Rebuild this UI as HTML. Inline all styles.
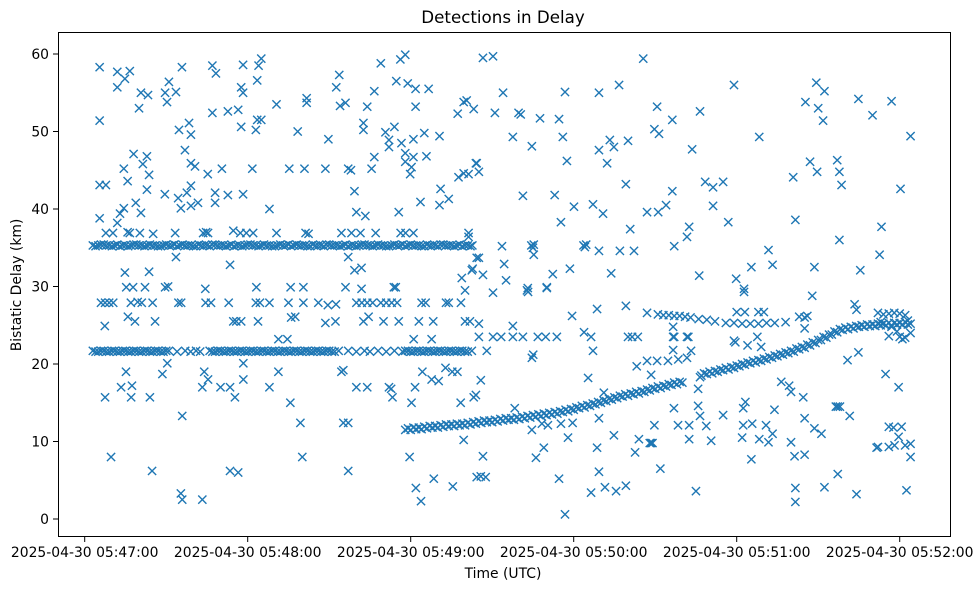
<!DOCTYPE html>
<html><head><meta charset="utf-8"><title>Detections in Delay</title>
<style>
html,body{margin:0;padding:0;background:#fff;}
svg{display:block;font-family:"DejaVu Sans","Liberation Sans",sans-serif;}
</style></head>
<body>
<svg id="chart" width="980" height="590" viewBox="0 0 980 590" xmlns="http://www.w3.org/2000/svg">
<rect x="0" y="0" width="980" height="590" fill="#fff"/>
<text x="503" y="23" font-size="16.7" text-anchor="middle" fill="#000">Detections in Delay</text>
<g id="marks"></g>
<rect x="58.5" y="32.5" width="892" height="504" fill="none" stroke="#000" stroke-width="1"/>
<g id="xaxis"></g>
<g id="yaxis"></g>
<text x="503" y="578" font-size="13.9" text-anchor="middle" fill="#000">Time (UTC)</text>
<text x="21" y="285" font-size="13.9" text-anchor="middle" fill="#000" transform="rotate(-90 21 285)">Bistatic Delay (km)</text>
</svg>
<script>
// seconds after 2025-04-30 05:47:00
const xTickSeconds = [0, 60, 120, 180, 240, 300];
const xTickLabels = ["2025-04-30 05:47:00","2025-04-30 05:48:00","2025-04-30 05:49:00","2025-04-30 05:50:00","2025-04-30 05:51:00","2025-04-30 05:52:00"];
const yTickValues = [0, 10, 20, 30, 40, 50, 60];
const yTickLabels = ["0","10","20","30","40","50","60"];

const band35 = [[3,35.3],[5,35.3],[7,35.4],[9,35.3],[11,35.3],[13,35.2],[15,35.3],[17,35.3],[19,35.4],[21,35.3],[23,35.3],[25,35.3],[27,35.2],[29,35.3],[31,35.3],[33,35.4],[35,35.3],[37,35.3],[39,35.3],[41,35.2],[43,35.3],[45,35.3],[47,35.4],[49,35.3],[51,35.3],[53,35.3],[55,35.2],[57,35.3],[59,35.3],[61,35.4],[63,35.3],[65,35.3],[67,35.3],[69,35.2],[71,35.3],[73,35.3],[75,35.4],[77,35.3],[79,35.3],[81,35.3],[83,35.2],[85,35.3],[87,35.3],[89,35.4],[91,35.3],[93,35.3],[95,35.3],[97,35.2],[99,35.3],[101,35.3],[103,35.4],[105,35.3],[107,35.3],[109,35.3],[111,35.2],[113,35.3],[115,35.3],[117,35.4],[119,35.3],[121,35.3],[123,35.3],[125,35.2],[127,35.3],[129,35.3],[131,35.4],[133,35.3],[135,35.3],[137,35.3],[139,35.2],[141,35.3],[142.7,35.3]];

const band35Fill = [[4,35.2],[6,35.4],[8,35.3],[10,35.2],[12,35.4],[14,35.3],[16,35.2],[18,35.4],[20,35.3],[22,35.2],[24,35.4],[26,35.3],[28,35.2],[30,35.4],[32,35.3],[34,35.2],[36,35.4],[38,35.3],[40,35.2],[42,35.4],[44,35.3],[46,35.2],[48,35.4],[50,35.3],[52,35.2],[54,35.4],[56,35.3],[58,35.2],[60,35.4],[62,35.3],[64,35.2],[66,35.4],[68,35.3],[70,35.2],[72,35.4],[74,35.3],[76,35.2],[78,35.4],[80,35.3],[82,35.2],[84,35.4],[86,35.3],[88,35.2],[90,35.4],[92,35.3],[94,35.2],[96,35.4],[98,35.3],[100,35.2],[102,35.4],[104,35.3],[106,35.2],[108,35.4],[110,35.3],[112,35.2],[114,35.4],[116,35.3],[118,35.2],[120,35.4],[122,35.3],[124,35.2],[126,35.4],[128,35.3],[130,35.2],[132,35.4],[134,35.3],[136,35.2],[138,35.4],[140,35.3],[142,35.2]];

const band22 = [[3,21.7],[5,21.6],[7,21.7],[9,21.6],[11,21.7],[13,21.6],[15,21.7],[17,21.6],[19,21.7],[21,21.6],[23,21.7],[25,21.6],[27,21.7],[29,21.6],[31,21.7],[34,21.6],[37,21.7],[39,21.6],[41,21.7],[42.5,21.6],[46,21.7],[48,21.6],[50,21.7],[52,21.6],[54,21.7],[56,21.6],[58,21.7],[60,21.6],[62,21.7],[64,21.6],[66,21.7],[68,21.6],[70,21.7],[72,21.6],[74,21.7],[76,21.6],[78,21.7],[80,21.6],[82,21.7],[84,21.6],[86,21.7],[88,21.6],[90,21.7],[92,21.6],[93.5,21.7],[97,21.7],[100,21.6],[103,21.7],[105,21.6],[108,21.7],[111,21.6],[114,21.7],[117,21.6],[119,21.7],[121,21.6],[123,21.7],[125,21.6],[127,21.7],[129,21.6],[131,21.7],[133,21.6],[135,21.7],[137,21.6],[139,21.7],[141,21.6],[142.5,21.7]];

const band22Fill = [[4,21.6],[6,21.7],[8,21.6],[10,21.7],[12,21.6],[14,21.7],[16,21.6],[18,21.7],[20,21.6],[22,21.7],[24,21.6],[26,21.7],[28,21.6],[30,21.7],[47,21.6],[49,21.7],[51,21.6],[53,21.7],[55,21.6],[57,21.7],[59,21.6],[61,21.7],[63,21.6],[65,21.7],[67,21.6],[69,21.7],[71,21.6],[73,21.7],[75,21.6],[77,21.7],[79,21.6],[81,21.7],[83,21.6],[85,21.7],[87,21.6],[89,21.7],[91,21.6],[118,21.7],[120,21.6],[122,21.7],[124,21.6],[126,21.7],[128,21.6],[130,21.7],[132,21.6],[134,21.7],[136,21.6],[138,21.7],[140,21.6]];

const curveTrack = [[118,11.5],[120,11.5],[122,11.6],[124,11.6],[126,11.7],[128,11.8],[130,11.8],[132,11.9],[134,12.0],[136,12.0],[138,12.1],[140,12.1],[142,12.2],[144,12.3],[146,12.4],[148,12.5],[150,12.5],[152,12.6],[154,12.7],[156,12.8],[158,12.8],[160,12.9],[162,13.0],[164,13.1],[166,13.2],[168,13.3],[170,13.4],[172,13.5],[174,13.6],[176,13.8],[178,13.9],[180,14.1],[182,14.3],[184,14.4],[186,14.6],[188,14.8],[190,15.0],[192,15.2],[194,15.4],[196,15.6],[198,15.8],[200,15.9],[202,16.1],[204,16.2],[206,16.4],[208,16.6],[210,16.8],[212,16.9],[214,17.1],[216,17.3],[218,17.4],[220,17.6],
[227,18.5],[229,18.7],[231,18.8],[233,19.0],[235,19.2],[237,19.3],[239,19.5],[241,19.7],[243,19.9],[245,20.1],[247,20.2],[249,20.4],[251,20.6],[253,20.8],[255,21.0],[257,21.2],[259,21.4],[261,21.6],[263,21.9],[265,22.1],[267,22.4],[269,22.7],[271,23.1],[273,23.4],[275,23.8],[277,24.1],[279,24.4],[281,24.5],[283,24.6],[285,24.8],[287,24.8],[289,24.9],[291,24.9],[293,25.0],[295,25.0],[297,25.0],[299,25.1],[301,25.1],[303,25.1],[304,25.2]];

const curveFill = [[119,11.7],[121,11.8],[123,11.8],[125,11.9],[127,12.0],[129,12.0],[131,12.1],[133,12.2],[135,12.2],[137,12.3],[139,12.3],[141,12.4],[143,12.5],[145,12.6],[147,12.7],[149,12.7],[151,12.8],[153,12.9],[155,13.0],[157,13.0],[159,13.1],[161,13.2],[163,13.3],[165,13.4],[167,13.5],[169,13.6],[171,13.7],[173,13.8],[175,13.9],[177,14.1],[179,14.2],[181,14.4],[183,14.6],[185,14.7],[187,14.9],[189,15.1],[191,15.3],[193,15.5],[195,15.7],[197,15.9],[199,16.1],[201,16.2],[203,16.4],[205,16.5],[207,16.7],[209,16.9],[211,17.1],[213,17.2],[215,17.4],[217,17.6],[219,17.7],
[228,18.8],[230,19.0],[232,19.1],[234,19.3],[236,19.5],[238,19.6],[240,19.8],[242,20.0],[244,20.2],[246,20.4],[248,20.5],[250,20.7],[252,20.9],[254,21.1],[256,21.3],[258,21.5],[260,21.7],[262,22.0],[264,22.2],[266,22.5],[268,22.8],[270,23.1],[272,23.5],[274,23.8],[276,24.2],[278,24.5],[280,24.7],[282,24.8],[284,24.9],[286,25.0],[288,25.1],[290,25.1],[292,25.2],[294,25.2],[296,25.3],[298,25.3],[300,25.3],[302,25.4]];

const track26 = [[207,26.6],[211,26.4],[213,26.3],[215,26.3],[217,26.2],[219,26.2],[221,26.1],[223,26.0],[226,25.8],[229,25.7],[232,25.5],[236,25.3],[239,25.3],[242,25.2],[245,25.2],[248,25.2],[251,25.3],[254,25.3],[258,25.4],[240,26.7],[243,26.7],[248,26.7],[250,26.7],[263,26.1],[265,26.0],[266,26.2],[292,26.6],[294,26.4],[296,26.5],[298,26.6],[300,26.5],[302,26.3],[293,25.4],[297,24.8],[299,24.2],[300,23.5],[302,23.4],[304,24.0],[303,25.6],[301,23.2],[296,23.6]];

const scatter = [[5.5,58.3],[5.5,51.4],[12,57.7],[12,55.7],[14.8,56.8],[16.6,57.8],[20.7,55.0],[23.3,54.7],[20,53.0],[31,56.4],[29.6,55.0],[33.6,55.1],[30.3,53.8],[35.8,58.3],[47,58.5],[48.3,57.5],[47,52.4],[52.7,52.6],[56.5,52.8],[57.6,50.6],[58.3,58.6],[57.6,55.7],[58.3,55.0],[63.5,56.6],[64,58.5],[65,59.4],[63.5,51.5],[65,51.5],[63,50.2],[70.6,53.5],[81.7,54.3],[81.7,53.7],[78.4,50.0],[93.7,57.3],[92.6,55.7],[94,53.3],[96,53.7],[89.7,49.0],[104,53.2],[109,58.8],[102.6,51.1],[102.6,50.2],[106.6,55.2],[114.7,56.5],[116.2,59.3],[118,59.9],[118.9,56.2],[121.8,55.5],[126.6,55.5],[121.8,53.2],[110.7,49.9],[114,50.6],[112,48.9],[112,48.0],[116.6,48.5],[121,49.0],[125,49.8],[130.6,49.4],[118,47.2],[121,46.7],[118,46.1],[120.3,45.4],[119.8,44.5],[125.8,46.8],[106.6,46.7],[137.3,52.3],[139.5,53.8],[140.6,54.0],[143.2,52.9],[137.6,44.1],[139.5,44.6],[141.3,44.5],[144,45.9],[131,42.6],[134,41.3],[130.6,40.5],[123.6,40.9],[115.6,39.6],[99.3,42.3],[100,39.6],[103.3,39.1],
[5.5,43.1],[7.8,43.1],[5.5,38.8],[14.4,45.2],[15.8,43.6],[18,47.1],[21.4,45.8],[22.9,46.8],[23.7,44.4],[22.9,42.5],[34.7,50.2],[38.4,51.1],[39.1,49.6],[36.9,47.6],[39.1,45.9],[40.6,45.5],[45.3,44.5],[50.5,45.2],[61.7,45.2],[75.3,45.2],[80.9,45.2],[88.6,45.2],[97,45.2],[98,45.0],[105.6,45.2],[29.5,41.9],[34.4,41.4],[35.4,40.1],[37.6,42.1],[39.1,43.0],[39.1,40.4],[41.7,40.8],[48,42.1],[48,40.8],[52.7,41.8],[58.3,41.9],[68,40.0],[18.8,40.8],[20.7,39.5],[14.4,40.1],[13,39.4],[12,38.2],
[7.8,36.9],[10.4,36.9],[15.8,37.0],[16.6,36.9],[20.3,36.9],[25.2,36.8],[33.3,36.9],[43.6,36.9],[44.7,37.0],[45.4,36.9],[54.7,37.2],[57.3,36.9],[59.5,36.9],[62,36.9],[70.6,36.9],[81.3,36.9],[82.4,36.8],[94.5,36.9],[98.2,36.9],[101.5,36.9],[107.1,36.9],[116.3,36.9],[118.1,36.9],[121,36.9],[141.3,36.9],[141.3,36.4],
[33.6,33.8],[53.5,32.8],[14.8,31.8],[23.7,31.9],[97,33.8],[99.3,32.1],[101.9,32.4],[138.8,31.1],[142.5,32.1],[144.3,33.7],
[15.3,29.9],[17.8,29.9],[22.2,29.9],[29.6,29.9],[30.7,30.0],[44.4,29.7],[63.2,29.9],[75.8,29.9],[80.5,29.9],[96,29.9],[101.9,29.7],[113.8,29.9],[114.5,29.9],[140,29.5],
[6,27.9],[7.5,27.9],[9,27.9],[10.5,27.9],[17,27.9],[19.5,28.0],[21,27.9],[25,27.9],[34.5,27.9],[35.5,27.9],[44.5,27.9],[46.5,27.9],[53,27.9],[63,27.9],[64.5,27.9],[68,27.9],[75,27.9],[80.5,27.9],[86,27.9],[89.5,27.6],[92.5,27.7],[100,27.9],[102,27.9],[104,27.9],[106,27.9],[109,27.9],[111,27.9],[113,27.9],[115,27.9],[124,27.9],[125.5,27.9],[133,27.9],[134,27.9],[138.5,27.9],
[7.4,24.9],[15.9,26.1],[18.5,25.5],[25.9,25.5],[54.7,25.5],[55.8,25.5],[57.6,25.5],[63.8,25.5],[76,26.0],[77.5,26.1],[88.6,25.3],[92.3,25.5],[102.6,25.5],[104.5,26.1],[110,25.5],[115.6,25.5],[123,25.5],[128.3,25.5],[140,25.5],[141.8,25.5],
[71.3,23.2],[74.6,23.2],[121.1,23.2],[127.7,23.2],
[30.4,20.1],[58.4,20.1],[15.2,19.0],[44,19.0],[71.3,19.0],[94.5,19.0],[95.2,19.2],[124.3,19.0],[132.8,19.5],[135.3,19.0],[137.2,19.0],[28.6,18.7],[45.4,18.0],[58.4,18.0],[127.7,18.0],[130.3,17.8],[13.4,17.0],[17.4,17.2],[43.3,17.0],[50,17.0],[53.5,17.0],[68,17.0],[100,17.0],[104,17.0],[112,17.0],[112.8,16.8],[121.6,17.0],[7.5,15.7],[17.1,15.7],[24,15.7],[55.3,15.7],[113.3,15.7],[143.2,15.7],[75.7,15.0],[120.3,15.0],[138.4,15.0],[35.9,13.3],[79.4,12.4],[95.2,12.4],[97,12.4],[139.5,10.2],[9.7,8.0],[80.1,8.0],[119.6,8.0],[24.8,6.2],[53.5,6.2],[56.5,6.0],[97,6.2],[128.5,5.2],[135.5,4.2],[121.9,4.0],[35.4,3.3],[35.9,2.5],[43.3,2.5],[123.8,2.3],[144.3,5.4],
[146.6,59.5],[150.3,59.7],[205.6,59.4],[154,55.0],[176.8,55.1],[189.3,55.0],[196.7,56.0],[239,56.0],[269.3,56.3],[272.3,55.2],[284.8,54.2],[297,53.9],[265.3,53.8],[270,53.0],[271.8,51.4],[290,52.1],[304,49.4],[248.3,49.3],[210.7,53.2],[216.3,51.5],[226.5,52.6],[209.7,50.3],[211.4,49.7],[151,52.4],[159.7,52.4],[160.5,52.2],[167.6,51.7],[174.6,51.6],[157.6,49.3],[164.6,48.1],[176,49.3],[189.3,47.6],[193.3,48.9],[194.8,48.0],[200,48.8],[223.6,47.7],[177.5,46.2],[192.3,45.9],[144.3,45.9],[145.1,44.8],[199.2,43.2],[216.3,42.3],[228.4,43.5],[231.3,42.8],[235,43.5],[260.8,44.1],[267,46.1],[269.6,44.8],[277,46.3],[277.8,44.8],[278.6,43.1],[300.3,42.6],[161.3,41.7],[173,41.8],[180.1,40.3],[187.1,40.6],[190.8,39.4],[207,39.6],[211.1,39.6],[214,40.5],[231.3,40.4],[175.3,38.3],[200.8,37.4],[222.5,37.7],[221.7,36.4],[236.9,38.3],[261.6,38.6],[293.3,37.7],[277.8,36.0],[292.6,34.1],[217,35.2],[153.6,35.2],[164.4,35.3],[165,35.0],[165.3,35.4],[165.3,34.1],[183.6,35.3],[184.1,35.1],[184.6,35.4],[189.3,34.6],[197,34.6],[202.2,34.6],[145.1,33.7],[154.4,32.9],[142.8,32.3],[146.6,31.5],[155.1,30.8],[178.6,32.3],[172.3,31.6],[193.8,31.7],[226.2,31.4],[239.8,31.0],[245.4,32.5],[253.2,32.8],[251.7,34.7],[268.6,32.5],[285.5,32.1],[163.1,29.8],[170.1,29.9],[242.7,29.7],
[150.3,29.2],[162.8,29.5],[163.2,29.3],[170.1,29.8],[242.7,29.3],[267.8,28.8],[179.4,26.2],[188.6,27.1],[199.2,27.5],[283.4,27.7],[284.1,27.0],[145.1,25.2],[157.6,24.9],
[145.1,23.5],[150.3,23.5],[153.3,23.5],[157.6,23.5],[161.3,23.5],[166.8,23.5],[169.7,23.5],[173.8,23.5],[186.4,23.5],[200,23.5],[201.5,23.5],[203.6,23.5],[216.6,23.5],[222.2,23.5],[183.8,24.1],[148,21.7],[164.6,20.8],[165.1,21.2],[187.1,21.7],[203.2,19.7],[207,20.4],[210.7,20.4],[214.7,20.4],[216.6,21.8],[218.5,20.6],[221.7,20.8],[223.2,21.7],[208.5,18.6],[216.6,24.8],[217,23.5],[221.7,23.5],[239,23.0],[239.5,22.8],[244,22.4],[247.6,23.5],[249,22.2],[265,24.6],[284.8,21.5],[280.8,20.5],
[185.3,18.2],[145.8,17.9],[144,16.0],[191.1,16.3],[225.8,16.8],[226.5,18.3],[256.4,17.7],[259.3,17.2],[260,16.4],[264.5,15.7],[294.8,18.7],[299.6,17.0],[158.3,14.3],[216.9,14.3],[225.8,14.6],[243.2,15.1],[242.4,14.3],[253.9,14.1],[276.5,14.5],[277.2,14.5],[278,14.5],[281.6,13.3],[235,13.4],[189.3,13.0],[226.5,13.3],[265,13.0],[209.7,12.1],[218.4,12.1],[222.5,12.1],[228.8,12.0],[242.4,12.1],[245.7,12.3],[250.8,12.1],[164.6,11.5],[168.3,12.3],[170.5,12.1],[175.3,12.3],[179.6,12.4],[268.6,11.7],[271.2,11.0],[253.2,11.0],[296,11.9],[297.7,11.8],[300.7,11.9],
[177.9,10.5],[194.8,10.8],[204,10.3],[222.5,10.3],[230.6,10.1],[242,10.5],[248.3,10.3],[251.7,9.9],[260,9.9],[208,9.8],[208.5,9.8],[209,9.8],[299.6,10.6],[304,9.7],[298.1,9.5],[296,9.3],[291.5,9.2],[292,9.3],[302,9.5],[146.6,8.1],[166.1,7.9],[169,9.2],[188.6,9.2],[202.6,8.6],[245.4,7.7],[261.3,8.1],[265,8.3],[304,8.0],[211.9,6.5],[145.8,5.5],[147.6,5.4],[174.6,5.2],[189.3,6.1],[277.2,5.8],[186.4,3.4],[191.5,4.1],[195.6,3.6],[199.2,4.3],[225,3.6],[261.6,4.0],[261.6,2.2],[272.3,4.1],[284.1,3.2],[302.5,3.7],[176.8,0.6]];

const NS = "http://www.w3.org/2000/svg";
function xScale(t){ return 84.7 + t * (163 / 60); }
function yScale(d){ return 519 - d * 7.75; }

const marks = document.getElementById('marks');
function drawGroup(points, name){
  const g = document.createElementNS(NS, 'g');
  
  
  points.forEach(function(p){
    const cx = xScale(p[0]), cy = yScale(p[1]), r = 4.1;
    const path = document.createElementNS(NS, 'path');
    path.setAttribute('d', 'M' + (cx - r) + ' ' + (cy - r) + 'L' + (cx + r) + ' ' + (cy + r) + 'M' + (cx - r) + ' ' + (cy + r) + 'L' + (cx + r) + ' ' + (cy - r));
    path.setAttribute('stroke', '#1f77b4');
    path.setAttribute('stroke-width', '1.4');
    path.setAttribute('fill', 'none');
    
    
    g.appendChild(path);
  });
  marks.appendChild(g);
}
drawGroup(band35, 'band-35km');
drawGroup(band35Fill, 'band-35km-extra');
drawGroup(band22, 'band-22km');
drawGroup(band22Fill, 'band-22km-extra');
drawGroup(curveTrack, 'rising-track');
drawGroup(curveFill, 'rising-track-extra');
drawGroup(track26, 'track-26km');
drawGroup(scatter, 'scattered-detections');

const xaxis = document.getElementById('xaxis');
xTickSeconds.forEach(function(s, i){
  const x = xScale(s);
  const tick = document.createElementNS(NS, 'line');
  tick.setAttribute('x1', x); tick.setAttribute('x2', x);
  tick.setAttribute('y1', 537); tick.setAttribute('y2', 542);
  tick.setAttribute('stroke', '#000');
  
  
  xaxis.appendChild(tick);
  const lbl = document.createElementNS(NS, 'text');
  lbl.setAttribute('x', x); lbl.setAttribute('y', 557);
  lbl.setAttribute('font-size', '13.9');
  lbl.setAttribute('text-anchor', 'middle');
  lbl.textContent = xTickLabels[i];
  
  
  xaxis.appendChild(lbl);
});
const yaxis = document.getElementById('yaxis');
yTickValues.forEach(function(v, i){
  const y = yScale(v);
  const tick = document.createElementNS(NS, 'line');
  tick.setAttribute('x1', 53); tick.setAttribute('x2', 58.5);
  tick.setAttribute('y1', y); tick.setAttribute('y2', y);
  tick.setAttribute('stroke', '#000');
  
  
  yaxis.appendChild(tick);
  const lbl = document.createElementNS(NS, 'text');
  lbl.setAttribute('x', 49); lbl.setAttribute('y', y + 5);
  lbl.setAttribute('font-size', '13.9');
  lbl.setAttribute('text-anchor', 'end');
  lbl.textContent = yTickLabels[i];
  
  
  yaxis.appendChild(lbl);
});
</script>
</body></html>
